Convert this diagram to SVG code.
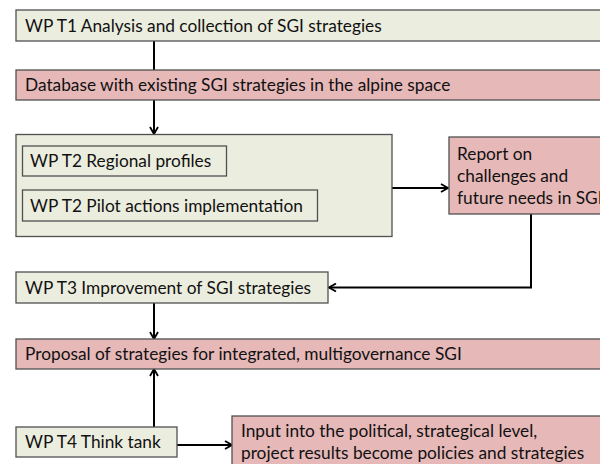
<svg xmlns="http://www.w3.org/2000/svg" width="600" height="464" viewBox="0 0 600 464">
<style>
.g{fill:#EBEDDE;stroke:#505050;stroke-width:1.3}
.p{fill:#E6B8B8;stroke:#505050;stroke-width:1.3}
.t{font-family:Lato,"Liberation Sans",sans-serif;font-size:17.3px;fill:#111}
.c{fill:none;stroke:#000;stroke-width:2}
</style>
<defs>
<marker id="ah" viewBox="0 0 10 10" refX="9" refY="5" markerWidth="10" markerHeight="10" markerUnits="userSpaceOnUse" orient="auto">
<path d="M2,1 L9,5 L2,9" fill="none" stroke="#000" stroke-width="1.8"/>
</marker>
</defs>
<rect width="600" height="464" fill="#fff"/>
<g id="connectors">
<line class="c" x1="154" y1="41" x2="154" y2="70"/>
<line class="c" x1="154" y1="100" x2="154" y2="134" marker-end="url(#ah)"/>
<line class="c" x1="392" y1="188" x2="448" y2="188" marker-end="url(#ah)"/>
<polyline class="c" points="531,214 531,287.5 329,287.5" marker-end="url(#ah)"/>
<line class="c" x1="154" y1="303" x2="154" y2="339" marker-end="url(#ah)"/>
<line class="c" x1="154" y1="427" x2="154" y2="369" marker-end="url(#ah)"/>
<line class="c" x1="177" y1="445" x2="232" y2="445" marker-end="url(#ah)"/>
</g>
<g id="t1">
<rect class="g" x="16" y="10" width="600" height="31"/>
<text class="t" x="25" y="32">WP T1 Analysis and collection of SGI strategies</text>
</g>
<g id="db">
<rect class="p" x="16" y="70" width="600" height="30"/>
<text class="t" x="25" y="91">Database with existing SGI strategies in the alpine space</text>
</g>
<g id="t2">
<rect class="g" x="16" y="134.5" width="376" height="102"/>
<g id="t2a">
<rect class="g" x="22.5" y="146" width="204" height="30"/>
<text class="t" x="30" y="167">WP T2 Regional profiles</text>
</g>
<g id="t2b">
<rect class="g" x="22.5" y="190" width="295" height="31"/>
<text class="t" x="30" y="212">WP T2 Pilot actions implementation</text>
</g>
</g>
<g id="report">
<rect class="p" x="449" y="137" width="170" height="77"/>
<text class="t" x="457" y="160">Report on</text>
<text class="t" x="457" y="182">challenges and</text>
<text class="t" x="457" y="204">future needs in SGI</text>
</g>
<g id="t3">
<rect class="g" x="16" y="272" width="312" height="31"/>
<text class="t" x="25" y="294">WP T3 Improvement of SGI strategies</text>
</g>
<g id="proposal">
<rect class="p" x="16" y="339" width="600" height="30"/>
<text class="t" x="25" y="360">Proposal of strategies for integrated, multigovernance SGI</text>
</g>
<g id="t4">
<rect class="g" x="16" y="427" width="161" height="30"/>
<text class="t" x="25" y="448">WP T4 Think tank</text>
</g>
<g id="input">
<rect class="p" x="232" y="416" width="380" height="60"/>
<text class="t" x="241" y="437">Input into the political, strategical level,</text>
<text class="t" x="241" y="459">project results become policies and strategies</text>
</g>
</svg>
